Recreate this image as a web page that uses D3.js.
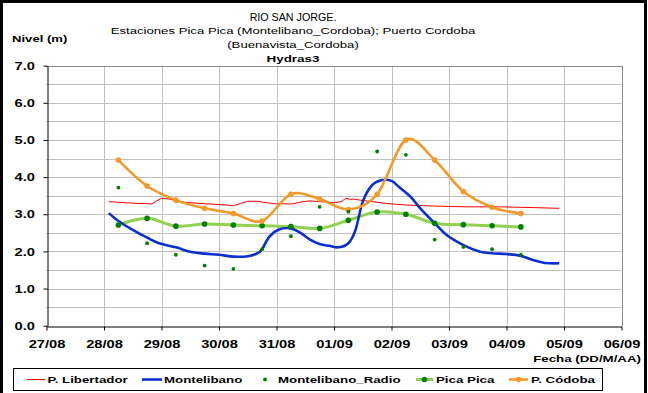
<!DOCTYPE html>
<html>
<head>
<meta charset="utf-8">
<script src="https://cdn.jsdelivr.net/npm/d3@7"></script>
<style>
  html, body { margin: 0; padding: 0; background: #fff; }
  svg { display: block; font-family: "Liberation Sans", Arial, sans-serif; }
</style>
</head>
<body>
<svg id="chart" width="648" height="393"></svg>
<script>
// ---- Data -------------------------------------------------------------
// Readings twice a day (06:00 and 18:00)
const dailyTimes = [
  "28/08 06:00", "28/08 18:00", "29/08 06:00", "29/08 18:00", "30/08 06:00",
  "30/08 18:00", "31/08 06:00", "31/08 18:00", "01/09 06:00", "01/09 18:00",
  "02/09 06:00", "02/09 18:00", "03/09 06:00", "03/09 18:00", "04/09 06:00"
];
const picaPica = [2.71, 2.89, 2.68, 2.74, 2.71, 2.69, 2.67, 2.62, 2.84, 3.06, 3.00, 2.76, 2.72, 2.69, 2.66];
const pCordoba = [4.46, 3.76, 3.38, 3.16, 3.02, 2.82, 3.54, 3.41, 3.13, 3.54, 5.00, 4.46, 3.61, 3.19, 3.02];
const montelibanoRadio = [3.72, 2.22, 1.91, 1.62, 1.53, 2.06, 2.41, 3.20, 3.07, 4.69, 4.60, 2.32, 2.12, 2.06, 1.91];

// Automatic station, Montelibano
const montelibanoTimes = [
  "28/08 02:00", "28/08 06:00", "28/08 12:00", "28/08 18:00", "28/08 23:00",
  "29/08 06:00", "29/08 12:00", "29/08 18:00", "30/08 00:00", "30/08 06:00",
  "30/08 12:00", "30/08 16:00", "30/08 18:00", "30/08 21:00", "31/08 01:00",
  "31/08 06:00", "31/08 10:00", "31/08 14:00", "31/08 18:00", "31/08 22:00",
  "01/09 02:00", "01/09 06:00", "01/09 09:00", "01/09 12:00", "01/09 16:00",
  "01/09 20:00", "02/09 00:00", "02/09 03:00", "02/09 08:00", "02/09 12:00",
  "02/09 18:00", "02/09 23:00", "03/09 06:00", "03/09 13:00", "03/09 18:00",
  "04/09 00:00", "04/09 06:00", "04/09 11:00", "04/09 16:00", "04/09 22:00"
];
const montelibano = [
  3.03, 2.82, 2.58, 2.37, 2.22,
  2.11, 1.99, 1.94, 1.91, 1.86,
  1.87, 1.95, 2.06, 2.40, 2.59,
  2.62, 2.50, 2.32, 2.20, 2.15,
  2.11, 2.22, 2.58, 3.34, 3.79,
  3.92, 3.90, 3.74, 3.47, 3.16,
  2.76, 2.44, 2.17, 1.99, 1.95,
  1.93, 1.88, 1.77, 1.69, 1.68
];

// Automatic station, P. Libertador
const libertadorTimes = [
  "28/08 02:00", "28/08 09:00", "28/08 15:00", "28/08 20:00", "28/08 22:00",
  "29/08 00:00", "29/08 03:00", "29/08 10:00", "29/08 19:00", "30/08 03:00",
  "30/08 06:00", "30/08 12:00", "30/08 16:00", "30/08 20:00", "31/08 00:00",
  "31/08 07:00", "31/08 11:00", "31/08 14:00", "31/08 18:00", "01/09 00:00",
  "01/09 03:00", "01/09 05:00", "01/09 07:00", "01/09 08:00", "01/09 12:00",
  "01/09 16:00", "01/09 22:00", "02/09 06:00", "02/09 18:00", "03/09 07:00",
  "03/09 21:00", "04/09 11:00", "04/09 22:00"
];
const libertador = [
  3.34, 3.31, 3.29, 3.28, 3.36,
  3.43, 3.41, 3.32, 3.28, 3.25,
  3.23, 3.35, 3.35, 3.31, 3.28,
  3.28, 3.34, 3.36, 3.34, 3.31,
  3.34, 3.43, 3.40, 3.41, 3.37,
  3.34, 3.29, 3.25, 3.22, 3.20,
  3.20, 3.18, 3.16
];

const xDomain = ["27/08 00:00", "06/09 00:00"];
const yTicks = [0, 1, 2, 3, 4, 5, 6, 7];

const titleLines = [
  "RIO SAN JORGE.",
  "Estaciones Pica Pica (Montelibano_Cordoba); Puerto Cordoba",
  "(Buenavista_Cordoba)"
];
const subTitle = "Hydras3";
const yTitle = "Nivel (m)";
const xTitle = "Fecha (DD/M/AA)";
const legendNames = ["P. Libertador", "Montelibano", "Montelibano_Radio", "Pica Pica", "P. Códoba"];

// ---- Setup ------------------------------------------------------------
const parse = d3.timeParse("%d/%m %H:%M");
const fmt = d3.timeFormat("%d/%m");
const STRETCH = 1.4;

const svg = d3.select("#chart");
const pLeft = 46.5, pRight = 621.5, pTop = 65.7, pBottom = 325.7;

const x = d3.scaleTime().domain(xDomain.map(parse)).range([pLeft, pRight]);
const y = d3.scaleLinear().domain([0, 7]).range([pBottom, pTop]);

const colors = {
  red: "#ff0000",
  blue: "#0a2fd0",
  dark: "#008000",
  light: "#92d050",
  orange: "#f39a2a"
};

// outer frame
svg.append("rect")
  .attr("x", 1.5).attr("y", 1.5)
  .attr("width", 644).attr("height", 400)
  .attr("fill", "#fff").attr("stroke", "#000").attr("stroke-width", 3);

// horizontally stretched text helper
function label(g, tx, ty, str, opt = {}) {
  return g.append("text")
    .attr("transform", `translate(${tx},${ty}) scale(${opt.sx ?? STRETCH},1)`)
    .attr("text-anchor", opt.anchor || "start")
    .attr("font-size", opt.size || 10)
    .attr("font-weight", opt.bold ? "bold" : "normal")
    .attr("fill", "#000")
    .text(str);
}

// ---- Titles -----------------------------------------------------------
const cx = 293;
label(svg, cx, 20.5, titleLines[0], { anchor: "middle", size: 10.2, sx: 1.05 });
label(svg, cx, 34, titleLines[1], { anchor: "middle", size: 9.4 });
label(svg, cx, 47.5, titleLines[2], { anchor: "middle", size: 9.4 });
label(svg, cx, 61.5, subTitle, { anchor: "middle", size: 9.6, bold: true });
label(svg, 12, 42, yTitle, { size: 9.5, bold: true, sx: 1.38 });

// ---- Grid -------------------------------------------------------------
const grid = svg.append("g").attr("stroke", "#c0c0c0").attr("stroke-width", 1);
d3.range(0.5, 7.01, 0.5).forEach(v => {
  grid.append("line")
    .attr("x1", pLeft).attr("x2", pRight)
    .attr("y1", Math.round(y(v)) + 0.5).attr("y2", Math.round(y(v)) + 0.5);
});
x.ticks(d3.timeDay.every(1)).slice(1).forEach(d => {
  grid.append("line")
    .attr("x1", Math.round(x(d)) + 0.5).attr("x2", Math.round(x(d)) + 0.5)
    .attr("y1", pTop).attr("y2", pBottom);
});
// plot area border (top / right)
svg.append("path")
  .attr("d", `M${pLeft},${Math.round(pTop) + 0.5}H${Math.round(pRight) + 0.5}V${pBottom}`)
  .attr("fill", "none").attr("stroke", "#8c8c8c").attr("stroke-width", 1);

// ---- Axes -------------------------------------------------------------
const xAxis = svg.append("g")
  .attr("transform", `translate(0,${Math.round(pBottom) + 0.5})`)
  .call(d3.axisBottom(x).ticks(d3.timeDay.every(1)).tickFormat(fmt).tickSize(4).tickSizeOuter(0));
xAxis.select(".domain").attr("stroke", "#000");
xAxis.selectAll(".tick line").attr("stroke", "#000");
xAxis.selectAll(".tick text")
  .attr("y", 0).attr("dy", 0)
  .attr("transform", `translate(0,21) scale(1.44,1)`)
  .attr("font-size", 10.2).attr("font-weight", "bold")
  .attr("font-family", "Liberation Sans, Arial, sans-serif")
  .attr("fill", "#000");

const yAxis = svg.append("g")
  .attr("transform", `translate(${Math.round(pLeft) + 0.5},0)`)
  .call(d3.axisLeft(y).tickValues(yTicks).tickFormat(d3.format(".1f")).tickSize(4).tickSizeOuter(0));
yAxis.select(".domain").attr("stroke", "#000");
yAxis.selectAll(".tick line").attr("stroke", "#000");
yAxis.selectAll(".tick text")
  .attr("x", -12.5 / 1.44).attr("dy", "0.36em")
  .attr("transform", "scale(1.44,1)")
  .attr("font-size", 10.2).attr("font-weight", "bold")
  .attr("font-family", "Liberation Sans, Arial, sans-serif")
  .attr("fill", "#000");

label(svg, 641, 362, xTitle, { anchor: "end", size: 9.5, bold: true });

// ---- Series -----------------------------------------------------------
const zip = (ts, vs) => ts.map((t, i) => ({ t: parse(t), v: vs[i] }));
const smooth = d3.line().x(d => x(d.t)).y(d => y(d.v)).curve(d3.curveCardinal.tension(0));
const straight = d3.line().x(d => x(d.t)).y(d => y(d.v));

const plot = svg.append("g");

plot.append("path").datum(zip(libertadorTimes, libertador))
  .attr("d", straight).attr("fill", "none")
  .attr("stroke", colors.red).attr("stroke-width", 1);

plot.append("path").datum(zip(dailyTimes, picaPica))
  .attr("d", smooth).attr("fill", "none")
  .attr("stroke", colors.light).attr("stroke-width", 3);

plot.append("path").datum(zip(montelibanoTimes, montelibano))
  .attr("d", smooth).attr("fill", "none")
  .attr("stroke", colors.blue).attr("stroke-width", 2.6).attr("stroke-linejoin", "round");

plot.append("path").datum(zip(dailyTimes, pCordoba))
  .attr("d", smooth).attr("fill", "none")
  .attr("stroke", colors.orange).attr("stroke-width", 2.6);

plot.selectAll("circle.pica").data(zip(dailyTimes, picaPica)).join("circle")
  .attr("class", "pica")
  .attr("cx", d => x(d.t)).attr("cy", d => y(d.v)).attr("r", 2.8)
  .attr("fill", colors.dark);

plot.selectAll("circle.cordoba").data(zip(dailyTimes, pCordoba)).join("circle")
  .attr("class", "cordoba")
  .attr("cx", d => x(d.t)).attr("cy", d => y(d.v)).attr("r", 2.8)
  .attr("fill", colors.orange);

plot.selectAll("circle.radio").data(zip(dailyTimes, montelibanoRadio)).join("circle")
  .attr("class", "radio")
  .attr("cx", d => x(d.t)).attr("cy", d => y(d.v)).attr("r", 1.9)
  .attr("fill", colors.dark);

// ---- Legend -----------------------------------------------------------
const lg = svg.append("g");
lg.append("rect")
  .attr("x", 13.5).attr("y", 368.5).attr("width", 589).attr("height", 22)
  .attr("fill", "#fff").attr("stroke", "#000").attr("stroke-width", 1);

const ly = 379.5;
const items = [
  { x0: 27, x1: 45, tx: 47.5, stroke: colors.red, w: 1 },
  { x0: 142, x1: 162, tx: 164, stroke: colors.blue, w: 2.6 },
  { dot: 265, tx: 278, r: 1.9, fill: colors.dark },
  { x0: 416, x1: 433, tx: 436, stroke: colors.light, w: 3, dot: 424.5, r: 2.8, fill: colors.dark },
  { x0: 509, x1: 528, tx: 531, stroke: colors.orange, w: 2.6, dot: 518.5, r: 2.8, fill: colors.orange }
];
items.forEach((it, i) => {
  if (it.stroke) {
    lg.append("line").attr("x1", it.x0).attr("x2", it.x1)
      .attr("y1", ly).attr("y2", ly)
      .attr("stroke", it.stroke).attr("stroke-width", it.w);
  }
  if (it.dot !== undefined) {
    lg.append("circle").attr("cx", it.dot).attr("cy", ly).attr("r", it.r).attr("fill", it.fill);
  }
  label(lg, it.tx, ly + 3.6, legendNames[i], { size: 9.5, bold: true });
});
</script>
</body>
</html>
